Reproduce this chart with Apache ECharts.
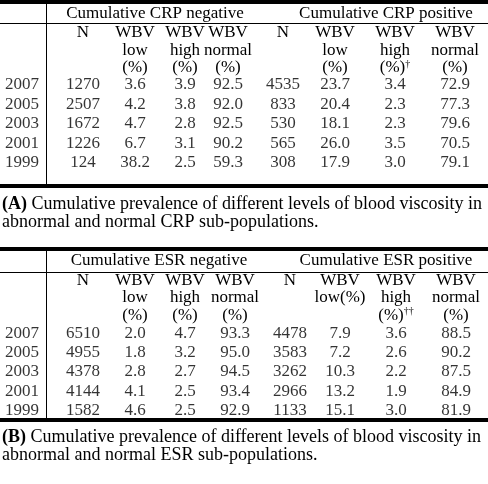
<!DOCTYPE html>
<html><head><meta charset="utf-8">
<script src="https://cdn.jsdelivr.net/npm/echarts@6/dist/echarts.min.js"></script>
<style>html,body{margin:0;padding:0;background:#fff}#c{width:488px;height:484px}</style>
</head><body><div id="c"></div>
<script>
// ---- Data ----
const years = ['2007', '2005', '2003', '2001', '1999'];
// Table A (CRP)
const crpNegN = [1270, 2507, 1672, 1226, 124];
const crpNegLow = [3.6, 4.2, 4.7, 6.7, 38.2];
const crpNegHigh = [3.9, 3.8, 2.8, 3.1, 2.5];
const crpNegNormal = [92.5, 92.0, 92.5, 90.2, 59.3];
const crpPosN = [4535, 833, 530, 565, 308];
const crpPosLow = [23.7, 20.4, 18.1, 26.0, 17.9];
const crpPosHigh = [3.4, 2.3, 2.3, 3.5, 3.0];
const crpPosNormal = [72.9, 77.3, 79.6, 70.5, 79.1];
// Table B (ESR)
const esrNegN = [6510, 4955, 4378, 4144, 1582];
const esrNegLow = [2.0, 1.8, 2.8, 4.1, 4.6];
const esrNegHigh = [4.7, 3.2, 2.7, 2.5, 2.5];
const esrNegNormal = [93.3, 95.0, 94.5, 93.4, 92.9];
const esrPosN = [4478, 3583, 3262, 2966, 1133];
const esrPosLow = [7.9, 7.2, 10.3, 13.2, 15.1];
const esrPosHigh = [3.6, 2.6, 2.2, 1.9, 3.0];
const esrPosNormal = [88.5, 90.2, 87.5, 84.9, 81.9];
// Header texts
const groupA = ['Cumulative CRP negative', 'Cumulative CRP positive'];
const groupB = ['Cumulative ESR negative', 'Cumulative ESR positive'];
const headA = [['N'], ['WBV', 'low', '(%)'], ['WBV', 'high', '(%)'], ['WBV', 'normal', '(%)'],
               ['N'], ['WBV', 'low', '(%)'], ['WBV', 'high', '(%){s|†}'], ['WBV', 'normal', '(%)']];
const headB = [['N'], ['WBV', 'low', '(%)'], ['WBV', 'high', '(%)'], ['WBV', 'normal', '(%)'],
               ['N'], ['WBV', 'low(%)'], ['WBV', 'high', '(%){s|††}'], ['WBV', 'normal', '(%)']];
const captionA = ['{b|(A)} Cumulative prevalence of different levels of blood viscosity in',
                  'abnormal and normal CRP sub-populations.'];
const captionB = ['{b|(B)} Cumulative prevalence of different levels of blood viscosity in',
                  'abnormal and normal ESR sub-populations.'];

// ---- Layout ----
const FONT = '"Liberation Serif", "Times New Roman", serif';
const FS = 17, CFS = 18;
const colsA = [22, 83, 135, 185, 228, 283, 335, 395, 455];
const colsB = [22, 83, 135, 185, 235, 290, 340, 396, 456];
const rowsA = [85, 104.5, 124, 143.5, 163];
const rowsB = [334, 353, 372, 391.5, 411];
const groupXA = [155, 386], groupXB = [159, 386];

function cellData(cols, rows, cols8) {
  const out = [];
  years.forEach((y, i) => {
    out.push({ value: [cols[0], rows[i]], label: { formatter: y } });
    cols8.forEach((arr, j) => {
      const v = arr[i];
      const txt = (j === 0 || j === 4) ? String(v) : v.toFixed(1);
      out.push({ value: [cols[j + 1], rows[i]], label: { formatter: txt } });
    });
  });
  return out;
}
const dataA = cellData(colsA, rowsA, [crpNegN, crpNegLow, crpNegHigh, crpNegNormal, crpPosN, crpPosLow, crpPosHigh, crpPosNormal]);
const dataB = cellData(colsB, rowsB, [esrNegN, esrNegLow, esrNegHigh, esrNegNormal, esrPosN, esrPosLow, esrPosHigh, esrPosNormal]);

const gfx = [];
function txt(x, y, text, align, size) {
  const fs = size || FS;
  gfx.push({ type: 'text', x: x, y: y, silent: true, z: 10,
    style: { text: text, font: fs + 'px ' + FONT, fill: '#000',
      textAlign: align || 'center', textVerticalAlign: 'middle',
      rich: { s: { fontSize: 10, fontFamily: FONT, verticalAlign: 'top', padding: [0, 0, 8, 0] },
              b: { fontSize: fs, fontFamily: FONT, fontWeight: 'bold' } } } });
}
function rect(x, y, w, h) {
  gfx.push({ type: 'rect', silent: true, z: 5, shape: { x: x, y: y, width: w, height: h }, style: { fill: '#000' } });
}
function table(top, thin, vtop, vbot, bottom, headerY, groups, groupX, heads, cols, caps, capY) {
  rect(0, top, 488, 4);
  rect(0, thin, 488, 1);
  rect(46, vtop, 1, vbot - vtop);
  rect(0, bottom, 488, 4);
  txt(groupX[0], headerY[0], groups[0]);
  txt(groupX[1], headerY[0], groups[1]);
  heads.forEach((lines, j) => {
    lines.forEach((l, k) => txt(cols[j + 1], headerY[k + 1], l));
  });
  txt(2, capY[0], caps[0], 'left', CFS);
  txt(2, capY[1], caps[1], 'left', CFS);
}
table(0, 23, 4, 184, 184, [13.5, 33, 50.5, 68], groupA, groupXA, headA, colsA, captionA, [204, 222]);
table(247, 272, 251, 418, 418, [261, 281, 298, 315.5], groupB, groupXB, headB, colsB, captionB, [437, 455]);

const chart = echarts.init(document.getElementById('c'), null, { renderer: 'canvas' });
const labelStyle = { show: true, position: 'inside', color: '#000', fontFamily: FONT, fontSize: FS };
chart.setOption({
  animation: false,
  backgroundColor: '#fff',
  grid: { left: 0, right: 0, top: 0, bottom: 0 },
  xAxis: { type: 'value', min: 0, max: 488, show: false },
  yAxis: { type: 'value', min: 0, max: 484, inverse: true, show: false },
  series: [
    { type: 'scatter', symbolSize: 1, itemStyle: { color: 'rgba(0,0,0,0)' }, label: labelStyle, data: dataA, silent: true },
    { type: 'scatter', symbolSize: 1, itemStyle: { color: 'rgba(0,0,0,0)' }, label: labelStyle, data: dataB, silent: true }
  ],
  graphic: gfx
});
</script></body></html>
